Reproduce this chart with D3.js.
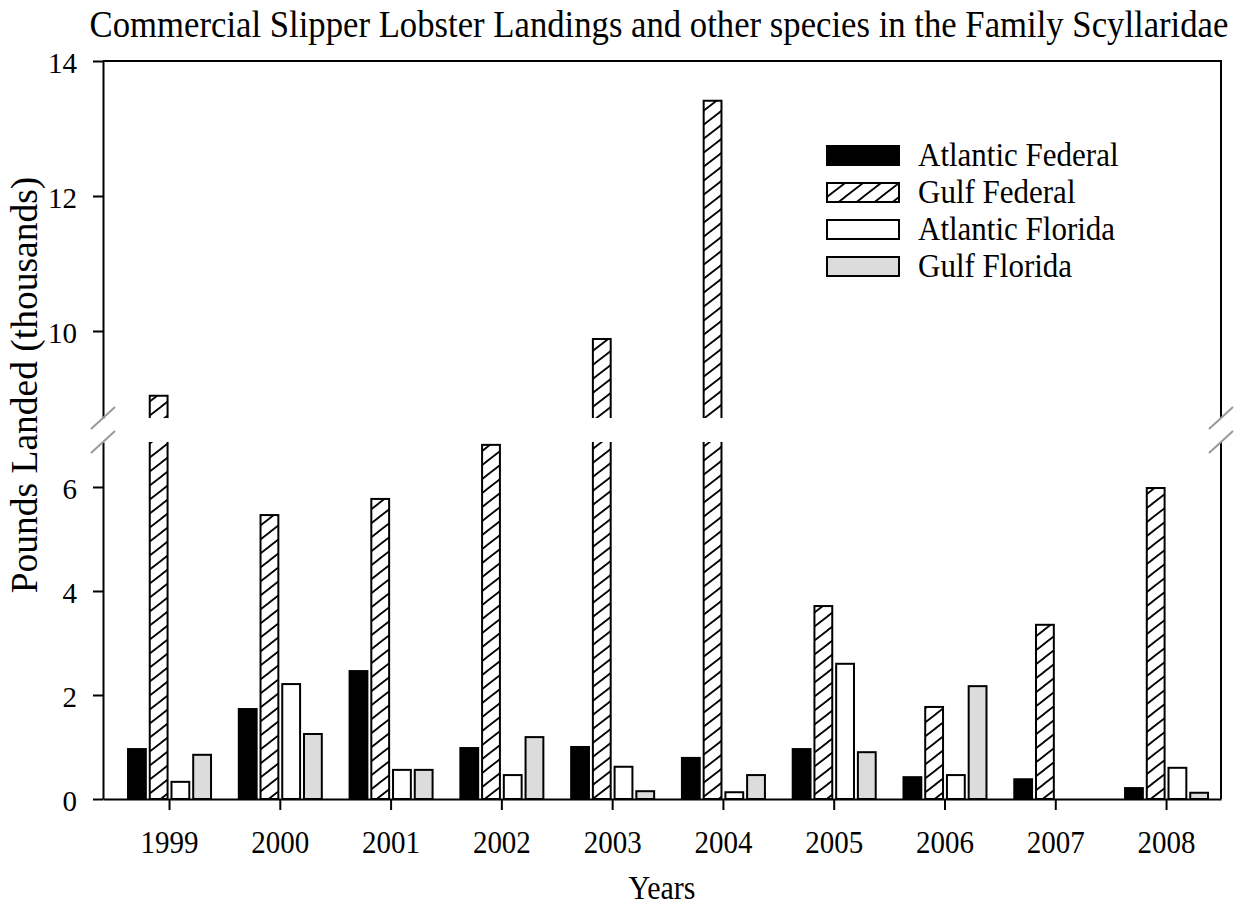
<!DOCTYPE html>
<html>
<head>
<meta charset="utf-8">
<script src="https://cdn.jsdelivr.net/npm/d3@7"></script>
<style>
  body { margin: 0; background: #fff; }
  svg { font-family: "Liberation Serif", "Times New Roman", serif; }
</style>
</head>
<body>
<svg width="1241" height="907"></svg>
<script>

var years = [1999, 2000, 2001, 2002, 2003, 2004, 2005, 2006, 2007, 2008]
var seriesNames = ["Atlantic Federal", "Gulf Federal", "Atlantic Florida", "Gulf Florida"]
var atlanticFederal = [0.96, 1.73, 2.46, 0.98, 1.00, 0.79, 0.96, 0.42, 0.38, 0.21]
var gulfFederal     = [9.04, 5.46, 5.77, 6.81, 9.88, 13.41, 3.71, 1.77, 3.35, 5.98]
var atlanticFlorida = [0.33, 2.21, 0.56, 0.46, 0.62, 0.13, 2.60, 0.46, 0, 0.60]
var gulfFlorida     = [0.85, 1.25, 0.56, 1.19, 0.15, 0.46, 0.90, 2.17, 0, 0.12]
var lowerTicks = [0, 2, 4, 6]
var upperTicks = [10, 12, 14]

var svg = d3.select("svg")

var left = 103, right = 1221
var lowerTop = 442, upperBottom = 418
var stretch = 1.1   // the source's lettering is a little taller than wide

// x: one linear position per year, bars offset inside each group
var x = d3.scaleLinear().domain([1998.404, 2008.496]).range([left, right])
var inner = d3.scaleBand().domain(seriesNames).range([-41, 42]).paddingInner(0.18)

// broken y axis: two scales
var yLow = d3.scaleLinear().domain([0, 6.865]).range([799, lowerTop])
var yHigh = d3.scaleLinear().domain([8.711, 14]).range([upperBottom, 61])

var fills = {"Atlantic Federal": "#000", "Gulf Federal": "url(#hatch)", "Atlantic Florida": "#fff", "Gulf Florida": "#dcdcdc"}

// hatch pattern
var defs = svg.append("defs")
var pat = defs.append("pattern")
  .attr("id", "hatch")
  .attr("patternUnits", "userSpaceOnUse")
  .attr("width", 18)
  .attr("height", 14)
pat.append("rect").attr("width", 18).attr("height", 14).attr("fill", "#fff")
pat.append("path")
  .attr("d", "M-3,16.3 L21,-2.3 M-21,16.3 L3,-2.3 M15,16.3 L39,-2.3")
  .attr("stroke", "#000")
  .attr("stroke-width", 1.8)

// bar data
var bars = []
years.forEach(function(yr, i){
  var vals = [atlanticFederal[i], gulfFederal[i], atlanticFlorida[i], gulfFlorida[i]]
  vals.forEach(function(v, j){
    if (v > 0) bars.push({year: yr, series: seriesNames[j], value: v})
  })
})

var g = svg.append("g")

bars.forEach(function(d){
  var x0 = x(d.year) + inner(d.series)
  var w = inner.bandwidth()
  if (d.value <= yLow.domain()[1]) {
    g.append("rect")
      .attr("x", x0).attr("y", yLow(d.value))
      .attr("width", w).attr("height", yLow(0) - yLow(d.value))
      .attr("fill", fills[d.series])
      .attr("stroke", "#000").attr("stroke-width", 2)
  } else {
    // lower piece, open top
    g.append("rect")
      .attr("x", x0).attr("y", lowerTop)
      .attr("width", w).attr("height", yLow(0) - lowerTop)
      .attr("fill", fills[d.series])
    g.append("path")
      .attr("d", "M" + x0 + "," + lowerTop + "V" + yLow(0) + "H" + (x0 + w) + "V" + lowerTop)
      .attr("fill", "none").attr("stroke", "#000").attr("stroke-width", 2)
    // upper piece, open bottom
    var yt = yHigh(d.value)
    g.append("rect")
      .attr("x", x0).attr("y", yt)
      .attr("width", w).attr("height", upperBottom - yt)
      .attr("fill", fills[d.series])
    g.append("path")
      .attr("d", "M" + x0 + "," + upperBottom + "V" + yt + "H" + (x0 + w) + "V" + upperBottom)
      .attr("fill", "none").attr("stroke", "#000").attr("stroke-width", 2)
  }
})

// axes
function styleAxis(sel) {
  sel.selectAll(".domain").attr("stroke", "#000").attr("stroke-width", 2)
  sel.selectAll(".tick line").attr("stroke", "#000").attr("stroke-width", 2)
  sel.selectAll(".tick text").attr("fill", "#000").style("font-size", "29px").style("font-family", "Liberation Serif, Times New Roman, serif")
}

svg.append("g")
  .attr("transform", "translate(" + left + ",0)")
  .call(d3.axisLeft(yLow).tickValues(lowerTicks).tickFormat(d3.format("d")).tickSize(10).tickSizeOuter(0).tickPadding(16))
  .call(styleAxis)
  .selectAll(".tick text").attr("dy", "0.4em")

svg.append("g")
  .attr("transform", "translate(" + left + ",0)")
  .call(d3.axisLeft(yHigh).tickValues(upperTicks).tickFormat(d3.format("d")).tickSize(10).tickSizeOuter(0).tickPadding(16))
  .call(styleAxis)
  .selectAll(".tick text").attr("dy", "0.4em")

svg.append("g")
  .attr("transform", "translate(0," + yLow(0) + ")")
  .call(d3.axisBottom(x).tickValues(years).tickFormat(d3.format("d")).tickSize(11).tickSizeOuter(0))
  .call(styleAxis)
  .selectAll(".tick text")
    .attr("y", 0).attr("dy", 0)
    .attr("transform", "translate(0,54) scale(1," + stretch + ")")

// frame: top and right
svg.append("path")
  .attr("d", "M" + left + "," + yHigh(14) + "H" + right + "V" + upperBottom + "M" + right + "," + lowerTop + "V" + yLow(0))
  .attr("fill", "none").attr("stroke", "#000").attr("stroke-width", 2)

// break marks
;[left, right].forEach(function(xx){
  [upperBottom, lowerTop].forEach(function(yy){
    svg.append("line")
      .attr("x1", xx - 12).attr("y1", yy + 11)
      .attr("x2", xx + 12).attr("y2", yy - 11)
      .attr("stroke", "#999").attr("stroke-width", 2)
  })
})

// legend
var legend = svg.append("g").attr("transform", "translate(827,146)")
seriesNames.forEach(function(s, i){
  var row = legend.append("g").attr("transform", "translate(0," + (i * 37) + ")")
  row.append("rect")
    .attr("width", 72).attr("height", 19)
    .attr("fill", fills[s]).attr("stroke", "#000").attr("stroke-width", 2)
  row.append("text")
    .attr("transform", "translate(91,20) scale(1," + stretch + ")")
    .style("font-size", "31px")
    .text(s)
})

// titles
svg.append("text")
  .attr("transform", "translate(659,37) scale(1," + stretch + ")")
  .attr("text-anchor", "middle")
  .style("font-size", "34.7px")
  .text("Commercial Slipper Lobster Landings and other species in the Family Scyllaridae")

svg.append("text")
  .attr("transform", "translate(662,899) scale(1," + stretch + ")")
  .attr("text-anchor", "middle")
  .style("font-size", "30px")
  .text("Years")

svg.append("text")
  .attr("transform", "translate(37,385) rotate(-90)")
  .attr("text-anchor", "middle")
  .style("font-size", "37.5px")
  .text("Pounds Landed (thousands)")

</script>
</body>
</html>
